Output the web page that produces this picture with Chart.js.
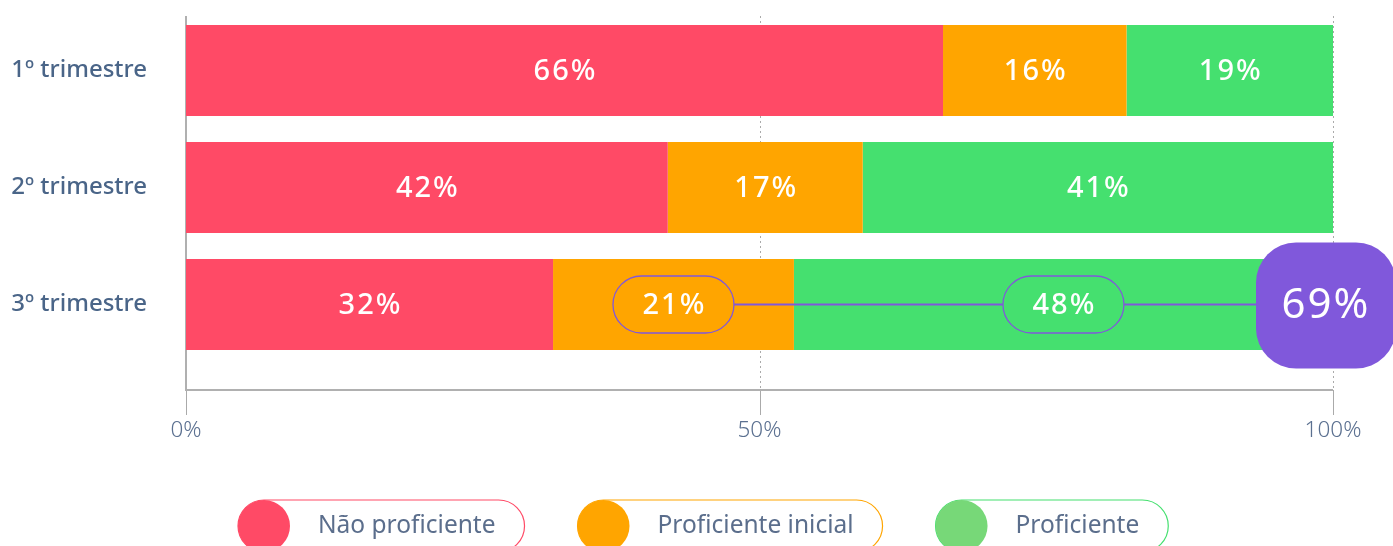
<!DOCTYPE html>
<html>
<head>
<meta charset="utf-8">
<script src="https://cdn.jsdelivr.net/npm/chart.js@4/dist/chart.umd.min.js"></script>
<style>
  html, body { margin: 0; padding: 0; background: #fff; }
  #wrap { width: 1393px; height: 546px; }
</style>
</head>
<body>
<div id="wrap"><canvas id="c" width="1393" height="546"></canvas></div>
<script>
const categories = ['1º trimestre', '2º trimestre', '3º trimestre'];
const seriesNames = ['Não proficiente', 'Proficiente inicial', 'Proficiente'];
const naoProficiente = [66, 42, 32];
const proficienteInicial = [16, 17, 21];
const proficiente = [19, 41, 48];
const xTicks = [0, 50, 100];

const barColors = ['#ff4a66', '#ffa500', '#45e06f'];
const legendDots = ['#ff4a66', '#ffa500', '#77d878'];
const purple = '#8058db';
const FONT = '"Noto Sans", sans-serif';

// axis lines, dotted grid and ticks (drawn behind the bars)
const axes = {
  id: 'axes',
  beforeDatasetsDraw(chart) {
    const {ctx, chartArea: {left, top}, scales: {x}} = chart;
    const axisY = 390, y0 = top + 4;
    ctx.save();
    ctx.strokeStyle = '#aaa';
    ctx.lineWidth = 1;
    ctx.setLineDash([2, 3]);
    xTicks.slice(1).forEach(v => {
      const px = Math.round(x.getPixelForValue(v)) + 0.5;
      ctx.beginPath(); ctx.moveTo(px, y0); ctx.lineTo(px, axisY); ctx.stroke();
    });
    ctx.setLineDash([]);
    xTicks.forEach(v => {
      const px = Math.round(x.getPixelForValue(v)) + 0.5;
      ctx.beginPath(); ctx.moveTo(px, axisY); ctx.lineTo(px, 415); ctx.stroke();
    });
    ctx.lineWidth = 2;
    ctx.strokeStyle = '#b0b0b0';
    ctx.beginPath(); ctx.moveTo(left, y0); ctx.lineTo(left, axisY); ctx.lineTo(x.getPixelForValue(100), axisY); ctx.stroke();
    ctx.restore();
  }
};

// labels in the bars, the highlight on the last row, and the legend
const labels = {
  id: 'labels',
  afterDatasetsDraw(chart) {
    const {ctx, chartArea} = chart;
    const last = categories.length - 1;
    ctx.save();
    ctx.textAlign = 'center';
    ctx.textBaseline = 'middle';
    ctx.fillStyle = '#fff';
    ctx.font = '500 29px ' + FONT;
    ctx.letterSpacing = '2px';
    const centers = [];
    chart.data.datasets.forEach((ds, di) => {
      chart.getDatasetMeta(di).data.forEach((bar, i) => {
        const a = Math.max(bar.base, chartArea.left), b = Math.min(bar.x, chartArea.right);
        const cx = (a + b) / 2, cy = bar.y;
        if (i === last && di > 0) centers.push({cx, cy});
        ctx.fillText(ds.data[i] + '%', cx + 1, cy + 1);
      });
    });
    // pills + connector + badge
    const pw = 121, ph = 57;
    const badgeL = chartArea.right - 77, badgeW = 140, badgeH = 126;
    const cy = centers[0].cy;
    ctx.strokeStyle = purple;
    ctx.lineWidth = 2;
    ctx.beginPath();
    ctx.moveTo(centers[0].cx + pw / 2, cy); ctx.lineTo(centers[1].cx - pw / 2, cy);
    ctx.moveTo(centers[1].cx + pw / 2, cy); ctx.lineTo(badgeL, cy);
    ctx.stroke();
    ctx.lineWidth = 1.3;
    centers.forEach(c => {
      ctx.beginPath();
      ctx.roundRect(c.cx - pw / 2, cy - ph / 2, pw, ph, ph / 2);
      ctx.stroke();
    });
    ctx.fillStyle = purple;
    ctx.beginPath();
    ctx.roundRect(badgeL, cy - badgeH / 2 + 1, badgeW, badgeH, 40);
    ctx.fill();
    ctx.fillStyle = '#fff';
    ctx.font = '400 42px ' + FONT;
    ctx.letterSpacing = '2px';
    const total = proficienteInicial[last] + proficiente[last];
    ctx.fillText(total + '%', badgeL + 70, cy + 2);
    ctx.restore();
  },
  afterDraw(chart) {
    const {ctx} = chart;
    ctx.save();
    ctx.font = '400 24.5px ' + FONT;
    ctx.textBaseline = 'middle';
    let x = 238;
    const top = 500, h = 52;
    seriesNames.forEach((name, i) => {
      const w = 80 + ctx.measureText(name).width + 29;
      ctx.strokeStyle = barColors[i];
      ctx.lineWidth = 1.2;
      ctx.beginPath(); ctx.roundRect(x, top, w, h, h / 2); ctx.stroke();
      ctx.fillStyle = legendDots[i];
      ctx.beginPath(); ctx.arc(x + 26, top + 26, 26, 0, Math.PI * 2); ctx.fill();
      ctx.fillStyle = '#5b6e8c';
      ctx.fillText(name, x + 80, top + 26);
      x += w + 53;
    });
    ctx.restore();
  }
};

new Chart(document.getElementById('c'), {
  type: 'bar',
  data: {
    labels: categories,
    datasets: [naoProficiente, proficienteInicial, proficiente].map((d, i) => ({
      label: seriesNames[i], data: d, backgroundColor: barColors[i], borderWidth: 0,
      categoryPercentage: 1, barPercentage: 91 / 117
    }))
  },
  options: {
    indexAxis: 'y', responsive: false, animation: false,
    layout: {padding: {top: 12, right: 60}},
    plugins: {legend: {display: false}, tooltip: {enabled: false}},
    scales: {
      x: {
        stacked: true, min: 0, max: 100,
        afterBuildTicks: s => { s.ticks = xTicks.map(v => ({value: v})); },
        afterFit: s => { s.height = 183; s.paddingLeft = 0; s.paddingRight = 0; },
        grid: {display: false}, border: {display: false},
        ticks: {padding: 46, color: '#5b7090', font: {family: FONT, size: 22.5, weight: 300}, callback: v => v + '%'}
      },
      y: {
        stacked: true,
        afterFit: s => { s.width = 186; s.paddingTop = 0; s.paddingBottom = 0; },
        grid: {display: false}, border: {display: false},
        ticks: {padding: 31, color: '#4a6588', font: {family: FONT, size: 24, weight: 500}}
      }
    }
  },
  plugins: [axes, labels]
});
</script>
</body>
</html>
